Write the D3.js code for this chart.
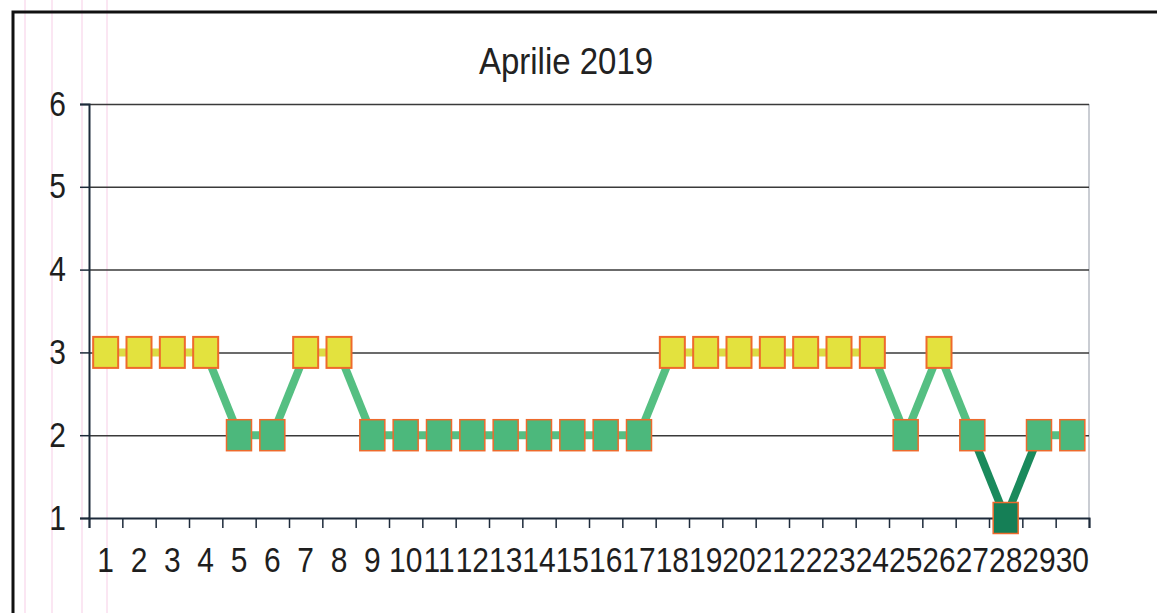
<!DOCTYPE html>
<html>
<head>
<meta charset="utf-8">
<script src="https://cdn.jsdelivr.net/npm/d3@7"></script>
<style>
  body { margin: 0; background: #fff; }
  svg { display: block; font-family: "Liberation Sans", Arial, sans-serif; }
</style>
</head>
<body>
<div id="chart"></div>
<script>
// data
let days = d3.range(1, 31).map(String)
let values = [3, 3, 3, 3, 2, 2, 3, 3, 2, 2, 2, 2, 2, 2, 2, 2, 2, 3, 3, 3, 3, 3, 3, 3, 2, 3, 2, 1, 2, 2]
let yTicks = [1, 2, 3, 4, 5, 6]
let title = 'Aprilie 2019'

let svgWidth = 1157
let svgHeight = 613
let margin = { top: 104, right: 68, bottom: 95, left: 89 }
let width = svgWidth - margin.left - margin.right
let height = svgHeight - margin.top - margin.bottom

// colours per level
let fillColor = { 1: '#157f56', 2: '#4cb87c', 3: '#e3e23e' }
let lineColor = { 1: '#1a8a5c', 2: '#55bf82', 3: '#dcdc44' }

let svg = d3.select('#chart')
    .append('svg')
    .attr('width', svgWidth)
    .attr('height', svgHeight)

// faint paper lines from the scan
svg.selectAll('line.paper')
    .data([25, 52, 82, 107])
    .enter()
    .append('line')
        .attr('class', 'paper')
        .attr('x1', d => d).attr('x2', d => d)
        .attr('y1', 0).attr('y2', svgHeight)
        .attr('stroke', '#f2a6d4')
        .attr('stroke-width', 1)
        .attr('opacity', 0.55)

// outer frame
svg.append('rect')
    .attr('x', 13)
    .attr('y', 12)
    .attr('width', svgWidth)
    .attr('height', svgHeight)
    .attr('fill', 'none')
    .attr('stroke', '#111')
    .attr('stroke-width', 3)

svg.append('text')
    .attr('transform', 'translate(566,74) scale(1,1.1)')
    .attr('text-anchor', 'middle')
    .attr('font-size', 33)
    .attr('fill', '#222')
    .text(title)

let chartGroup = svg.append('g')
    .attr('transform', `translate(${margin.left}, ${margin.top})`)

// scales
let xBand = d3.scaleBand()
    .domain(days)
    .range([0, width])

let xEdges = d3.scaleLinear()
    .domain([0, days.length])
    .range([0, width])

let yLinearScale = d3.scaleLinear()
    .domain([1, 6])
    .range([height, 0])

// plot area right border
chartGroup.append('line')
    .attr('x1', width).attr('x2', width)
    .attr('y1', 0).attr('y2', height)
    .attr('stroke', '#b8bcc4')
    .attr('stroke-width', 1.5)

// gridlines
chartGroup.append('g')
    .call(d3.axisLeft(yLinearScale).tickValues(yTicks.slice(1)).tickSize(-width).tickFormat(''))
    .call(g => g.select('.domain').remove())
    .selectAll('line')
        .attr('stroke', '#3a3a3a')
        .attr('stroke-width', 1.5)

// y axis
let yAxis = chartGroup.append('g')
    .call(d3.axisLeft(yLinearScale).tickValues(yTicks).tickFormat(d3.format('d')).tickSize(9).tickPadding(14))
yAxis.select('.domain').attr('stroke', '#1d2a3a').attr('stroke-width', 2)
yAxis.selectAll('line').attr('stroke', '#1d2a3a').attr('stroke-width', 1.5)
yAxis.selectAll('text')
    .attr('font-size', 30)
    .attr('fill', '#1e1e1e')
    .attr('font-family', '"Liberation Sans", Arial, sans-serif')
    .attr('dy', null)
    .attr('y', null)
    .attr('transform', 'translate(0,11) scale(1,1.15)')

// x axis tick marks at category edges
let xTickAxis = chartGroup.append('g')
    .attr('transform', `translate(0, ${height})`)
    .call(d3.axisBottom(xEdges).tickValues(d3.range(0, days.length + 1)).tickSize(10).tickFormat(''))
xTickAxis.select('.domain').attr('stroke', '#1d2a3a').attr('stroke-width', 2)
xTickAxis.selectAll('line').attr('stroke', '#1d2a3a').attr('stroke-width', 1.5)

// x labels
let xLabelAxis = chartGroup.append('g')
    .attr('transform', `translate(0, ${height})`)
    .call(d3.axisBottom(xBand).tickSize(0))
xLabelAxis.select('.domain').remove()
xLabelAxis.selectAll('text')
    .attr('font-size', 30)
    .attr('fill', '#1e1e1e')
    .attr('font-family', '"Liberation Sans", Arial, sans-serif')
    .attr('dy', null)
    .attr('y', null)
    .attr('transform', 'translate(0,54) scale(1,1.15)')

// line segments, coloured by the lower of the two values
let cx = i => xBand(days[i]) + xBand.bandwidth() / 2
let segments = values.slice(1).map((v, i) => ({ a: i, b: i + 1, lo: Math.min(values[i], v) }))

chartGroup.selectAll('line.seg')
    .data(segments)
    .enter()
    .append('line')
        .attr('class', 'seg')
        .attr('x1', d => cx(d.a))
        .attr('y1', d => yLinearScale(values[d.a]))
        .attr('x2', d => cx(d.b))
        .attr('y2', d => yLinearScale(values[d.b]))
        .attr('stroke', d => lineColor[d.lo])
        .attr('stroke-width', 8)

// square markers
let markW = 25
let markH = 31
chartGroup.selectAll('rect.mark')
    .data(values)
    .enter()
    .append('rect')
        .attr('class', 'mark')
        .attr('x', (d, i) => cx(i) - markW / 2)
        .attr('y', d => yLinearScale(d) - markH / 2)
        .attr('width', markW)
        .attr('height', markH)
        .attr('fill', d => fillColor[d])
        .attr('stroke', '#ee6a2c')
        .attr('stroke-width', d => d === 3 ? 2 : 1.5)
</script>
</body>
</html>
